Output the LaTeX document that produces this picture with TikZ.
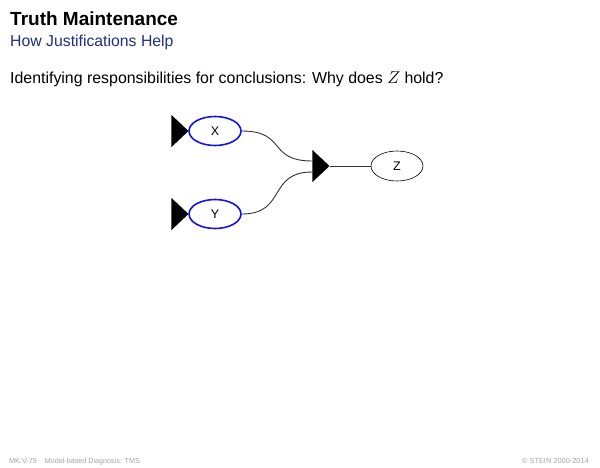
\documentclass[tikz,border=0pt]{standalone}
\usepackage{fontspec}
\setmainfont{Liberation Sans}
\usetikzlibrary{shapes.geometric,calc}
\definecolor{subblue}{RGB}{32,48,128}
\definecolor{footgray}{RGB}{165,165,165}
\definecolor{nodeblue}{RGB}{20,20,230}
\begin{document}
\begin{tikzpicture}[x=1pt,y=-1pt,
  prem/.style={ellipse,draw=nodeblue,line width=1.6pt,minimum width=52pt,minimum height=29pt,inner sep=0pt,font=\fontsize{12.5}{14}\selectfont},
  concl/.style={ellipse,draw=black,line width=0.6pt,minimum width=52pt,minimum height=30pt,inner sep=0pt,font=\fontsize{12.5}{14}\selectfont},
  tri/.style={isosceles triangle,isosceles triangle stretches,shape border rotate=0,fill=black,draw=none,inner sep=0pt,minimum width=32pt,minimum height=17pt},
  link/.style={draw=black!80,line width=0.9pt}]
\useasboundingbox (0,0) rectangle (600,467);
% header
\node[anchor=base west,inner sep=0pt,font=\fontsize{19}{22}\selectfont\bfseries] (title) at (10,25) {Truth Maintenance};
\node[anchor=base west,inner sep=0pt,font=\fontsize{15.8}{18}\selectfont,text=subblue] (sub) at (10,46) {How Justifications Help};
\node[anchor=base west,inner sep=0pt,font=\fontsize{15.9}{18}\selectfont] (body) at (10,83) {Identifying responsibilities for conclusions: Why does $Z$ hold?};
% diagram
\node[prem] (x) at (215,131) {X};
\node[prem] (y) at (215,214) {Y};
\node[concl] (z) at (397,166) {Z};
\node[tri,anchor=east] (tx) at (189,131) {};
\node[tri,anchor=east] (ty) at (189,214) {};
\node[tri,anchor=east] (tm) at (330,166) {};
\coordinate (inx) at ($(tm.west)+(0,-5)$);
\coordinate (iny) at ($(tm.west)+(0,6)$);
\draw[link] (x.east) .. controls +(45,0) and +(-45,0) .. (inx);
\draw[link] (y.east) .. controls +(45,0) and +(-45,0) .. (iny);
\draw[link] (tm.east) -- (z.west);
% footer
\node[anchor=base west,inner sep=0pt,font=\fontsize{7.2}{8}\selectfont,text=footgray] (foot) at (9,463) {MK:V-75\hspace{8pt}Model-based Diagnosis: TMS};
\node[anchor=base east,inner sep=0pt,font=\fontsize{7.4}{8}\selectfont,text=footgray] (copy) at (589,463) {© STEIN 2000-2014};
\end{tikzpicture}
\end{document}
